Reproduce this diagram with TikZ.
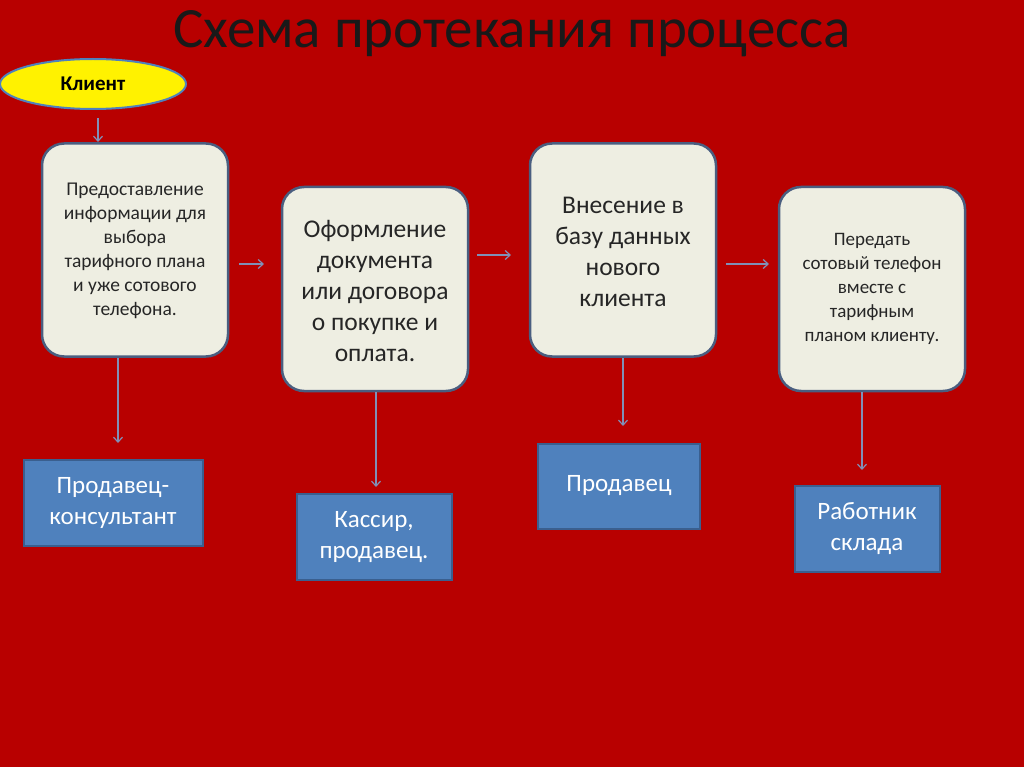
\documentclass[tikz,border=0pt]{standalone}
\usepackage{fontspec}
\setmainfont{Carlito}
\usetikzlibrary{shapes.geometric,arrows.meta}
\definecolor{bg}{HTML}{B80000}
\definecolor{boxfill}{HTML}{EEEEE2}
\definecolor{boxline}{HTML}{4A5E80}
\definecolor{blu}{HTML}{4F81BD}
\definecolor{bluline}{HTML}{3A5F8F}
\definecolor{arr}{HTML}{8090B8}
\begin{document}
\begin{tikzpicture}[x=1pt,y=-1pt,
  proc/.style={draw=boxline,line width=2.5pt,fill=boxfill,rounded corners=22pt,minimum width=186pt,align=center,text=black!85},
  role/.style={draw=bluline,line width=2pt,fill=blu,align=center,text=white,font=\fontsize{25}{31}\selectfont},
  conn/.style={draw=arr,line width=1.2pt,-{Straight Barb[length=5pt,width=9pt]}}]
\fill[bg] (0,0) rectangle (1024,767);
\useasboundingbox (0,0) rectangle (1024,767);
\node[text=black!90,font=\fontsize{57}{60}\selectfont] (title) at (512,34) {Схема протекания процесса};
\node[ellipse,draw=blu,line width=2pt,fill=yellow,minimum width=186pt,minimum height=50pt,font=\bfseries\fontsize{21}{24}\selectfont] (cl) at (93,84) {Клиент};
\node[proc,minimum height=213pt] (p1) at (135,250) {};
\node[align=center,text=black!85,font=\fontsize{19.5}{24}\selectfont] (t1) at (135,251) {Предоставление\\информации для\\выбора\\тарифного плана\\и уже сотового\\телефона.};
\node[proc,minimum height=204pt] (p2) at (375,289) {};
\node[align=center,text=black!85,font=\fontsize{25.5}{31}\selectfont] (t2) at (375,291) {Оформление\\документа\\или договора\\о покупке и\\оплата.};
\node[proc,minimum height=213pt] (p3) at (623,250) {};
\node[align=center,text=black!85,font=\fontsize{25.5}{31}\selectfont] (t3) at (623,252) {Внесение в\\базу данных\\нового\\клиента};
\node[proc,minimum height=204pt] (p4) at (872,289) {};
\node[align=center,text=black!85,font=\fontsize{19}{24}\selectfont] (t4) at (872,289) {Передать\\сотовый телефон\\вместе с\\тарифным\\планом клиенту.};
\node[role,minimum width=179pt,minimum height=86pt] (r1) at (113,503) {Продавец-\\консультант};
\node[role,minimum width=155pt,minimum height=86pt] (r2) at (374,537) {Кассир,\\продавец.};
\node[role,minimum width=162pt,minimum height=85pt] (r3) at (619,486) {Продавец};
\node[role,minimum width=145pt,minimum height=86pt] (r4) at (867,529) {Работник\\склада};
\coordinate (c1) at (98,118);
\coordinate (c1e) at (98,142);
\coordinate (c2e) at (376,487);
\draw[conn] (c1) -- (c1e);
\draw[conn] (p1.east |- 0,264) ++(10,0) -- (264,264);
\draw[conn] (p2.east |- 0,255) ++(8,0) -- (511,255);
\draw[conn] (p3.east |- 0,264) ++(9,0) -- (769,264);
\draw[conn] (p1.south -| 118,0) -- (118,443);
\draw[conn] (p2.south -| 376,0) -- (c2e);
\draw[conn] (p3.south) -- (623,426);
\draw[conn] (p4.south -| 862,0) -- (862,470);
\end{tikzpicture}
\end{document}
